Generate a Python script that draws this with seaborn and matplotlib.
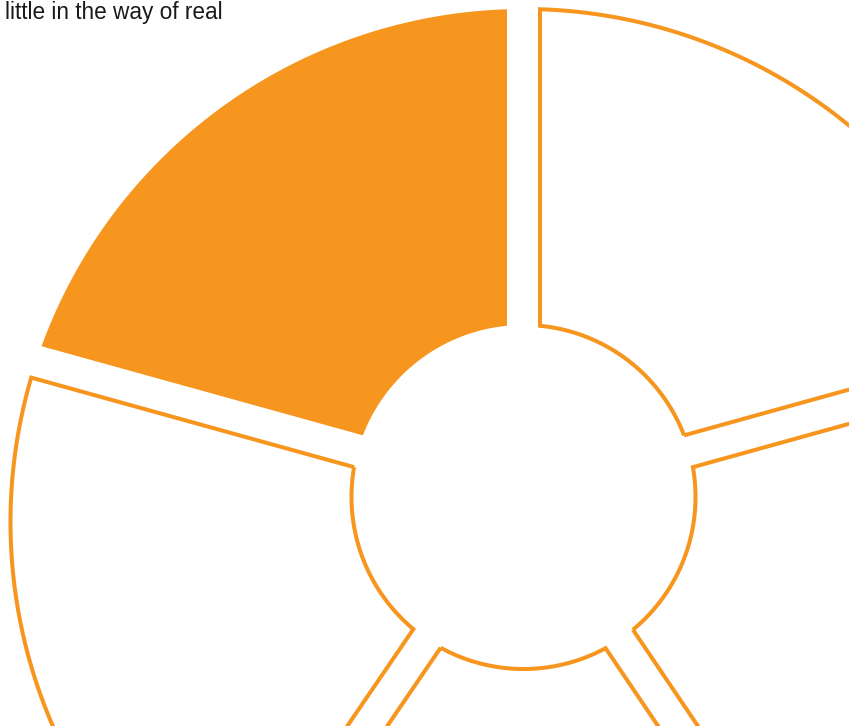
import numpy as np
import matplotlib
matplotlib.use("Agg")
import matplotlib.pyplot as plt
from matplotlib.patches import Polygon
import seaborn as sns

# five parts of the ring, counterclockwise from 12 o'clock (degrees of arc)
parts = ["part 1", "part 2", "part 3", "part 4", "part 5"]
shares = [74.5, 71.2, 68.3, 71.5, 74.5]
filled = [True, False, False, False, False]
caption = "little in the way of real"

orange = "#F7961F"

sns.set_theme(style="white")
plt.rcParams["font.family"] = ["Liberation Sans", "DejaVu Sans"]

# ring geometry (pixel units, inner centre at origin)
r_in = 172.0
r_out = 513.0
out_centre = np.array([0.0, -25.0])
half_gap = 16.5


def edge_points(theta, side):
    # side = +1 -> offset to the ccw side of the boundary, -1 -> cw side
    u = np.array([np.cos(theta), np.sin(theta)])
    n = side * np.array([-np.sin(theta), np.cos(theta)])
    off = half_gap * n
    t_in = np.sqrt(r_in ** 2 - half_gap ** 2)
    d = off - out_centre
    b = 2 * u.dot(d)
    c = d.dot(d) - r_out ** 2
    t_out = (-b + np.sqrt(b * b - 4 * c)) / 2
    return t_in * u + off, t_out * u + off


def wedge_poly(a0, a1):
    ta, tb = np.radians(a0), np.radians(a1)
    a_in, a_out = edge_points(ta, +1)
    b_in, b_out = edge_points(tb, -1)
    # outer arc around the outer centre, ccw from a_out to b_out
    pa = np.arctan2(*(a_out - out_centre)[::-1])
    pb = np.arctan2(*(b_out - out_centre)[::-1])
    while pb < pa:
        pb += 2 * np.pi
    ang = np.linspace(pa, pb, 200)
    outer = out_centre + r_out * np.column_stack([np.cos(ang), np.sin(ang)])
    # inner arc back, cw from b_in towards a_in (a_in itself is the first point)
    qa = np.arctan2(a_in[1], a_in[0])
    qb = np.arctan2(b_in[1], b_in[0])
    while qb < qa:
        qb += 2 * np.pi
    ang = np.linspace(qb, qa, 120)[:-1]
    inner = r_in * np.column_stack([np.cos(ang), np.sin(ang)])
    return np.vstack([a_in, outer, inner])


fig = plt.figure(figsize=(8.49, 7.26), dpi=100)
ax = fig.add_axes([0, 0, 1, 1])
ax.set_xlim(-523.5, 325.5)
ax.set_ylim(-229, 497)
ax.set_aspect("equal")
ax.axis("off")

bounds = 90 + np.concatenate([[0], np.cumsum(shares)])
for name, a0, a1, solid in zip(parts, bounds[:-1], bounds[1:], filled):
    pts = wedge_poly(a0, a1)
    if solid:
        patch = Polygon(pts, closed=True, facecolor=orange, edgecolor="none", label=name)
    else:
        patch = Polygon(pts, closed=True, facecolor="none", edgecolor=orange,
                        linewidth=2.9, joinstyle="miter", label=name)
    ax.add_patch(patch)

fig.text(5 / 849, 1 - 19 / 726, caption, fontsize=16.3, color="#1a1a1a",
         ha="left", va="baseline")

fig.savefig("out.png", dpi=100, facecolor="white")
